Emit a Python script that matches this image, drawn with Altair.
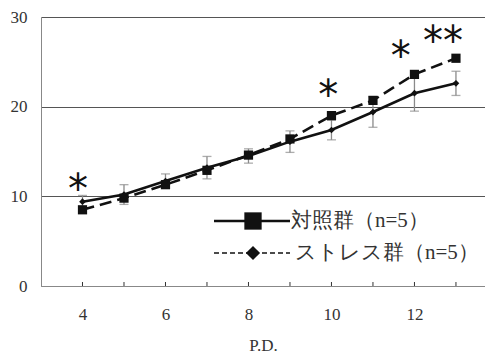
import altair as alt
import pandas as pd

# ---- data ----
pd_days = [4, 5, 6, 7, 8, 9, 10, 11, 12, 13]
square_vals = [8.5, 9.8, 11.3, 12.9, 14.6, 16.4, 19.0, 20.7, 23.6, 25.4]   # dashed line, squares
diamond_vals = [9.4, 10.2, 11.7, 13.2, 14.5, 16.1, 17.4, 19.4, 21.5, 22.6]  # solid line, diamonds
diamond_sd = [0.7, 1.1, 0.8, 1.25, 0.8, 1.2, 1.1, 1.7, 2.0, 1.35]

star_x = [3.89, 9.92, 11.67, 12.69]
star_y = [11.9, 22.4, 26.8, 28.4]
star_text = ["*", "*", "*", "**"]

legend_labels = ["対照群（n=5）", "ストレス群（n=5）"]
x_tick_values = [4, 5, 6, 7, 8, 9, 10, 11, 12, 13]
y_tick_values = [0, 10, 20, 30]

SERIF = "Liberation Serif"
W, H = 444, 269

df_sq = pd.DataFrame({"x": pd_days, "y": square_vals})
df_di = pd.DataFrame({"x": pd_days, "y": diamond_vals,
                      "lo": [v - s for v, s in zip(diamond_vals, diamond_sd)],
                      "hi": [v + s for v, s in zip(diamond_vals, diamond_sd)]})
df_caps = pd.DataFrame({"x": pd_days * 2,
                        "y": list(df_di["lo"]) + list(df_di["hi"])})
df_star = pd.DataFrame({"x": star_x, "y": star_y, "t": star_text})
df_ticks = pd.DataFrame({"x": x_tick_values})
df_one = pd.DataFrame({"a": [0]})

xs = alt.Scale(domain=[3, 13.7], nice=False, zero=False)
ys = alt.Scale(domain=[0, 30], nice=False)

x_axis = alt.Axis(values=x_tick_values, ticks=False, grid=False,
                  labelExpr="datum.value % 2 == 0 && datum.value <= 12 ? datum.label : ''",
                  labelFont=SERIF, labelFontSize=17, labelColor="#333", labelPadding=20,
                  domainColor="#888", title="P.D.", titleFont=SERIF, titleFontSize=17,
                  titleFontWeight="normal", titleColor="#333", titlePadding=15)
y_axis = alt.Axis(values=y_tick_values, ticks=False, grid=True, gridColor="#555",
                  labelFont=SERIF, labelFontSize=17, labelColor="#333", labelPadding=14,
                  domainColor="#888", title=None)

base_sq = alt.Chart(df_sq)
base_di = alt.Chart(df_di)

err = base_di.mark_rule(color="#8a8a8a", strokeWidth=1.3).encode(
    x=alt.X("x:Q", scale=xs, axis=x_axis), y=alt.Y("lo:Q", scale=ys, axis=y_axis), y2="hi:Q")
caps = alt.Chart(df_caps).mark_tick(orient="horizontal", color="#8a8a8a", size=9, thickness=1.3).encode(
    x=alt.X("x:Q", scale=xs), y=alt.Y("y:Q", scale=ys))

line_sq = base_sq.mark_line(color="#111", strokeWidth=2.6, strokeDash=[12, 6]).encode(
    x=alt.X("x:Q", scale=xs), y=alt.Y("y:Q", scale=ys))
line_di = base_di.mark_line(color="#111", strokeWidth=2.6).encode(
    x=alt.X("x:Q", scale=xs), y=alt.Y("y:Q", scale=ys))
pts_sq = base_sq.mark_point(shape="square", filled=True, color="#111", size=85, opacity=1).encode(
    x=alt.X("x:Q", scale=xs), y=alt.Y("y:Q", scale=ys))
pts_di = base_di.mark_point(shape="diamond", filled=True, color="#111", size=45, opacity=1).encode(
    x=alt.X("x:Q", scale=xs), y=alt.Y("y:Q", scale=ys))

stars = alt.Chart(df_star).mark_text(font="DejaVu Sans", fontSize=40, color="#111",
                                     baseline="middle", dy=12).encode(
    x=alt.X("x:Q", scale=xs), y=alt.Y("y:Q", scale=ys), text="t:N")

xticks = alt.Chart(df_ticks).mark_rule(color="#333", strokeWidth=1).encode(
    x=alt.X("x:Q", scale=xs), y=alt.value(H), y2=alt.value(H - 4))

# ---- legend (drawn inside plot, lower right) ----
LX0, LX1, LXS, LT = 173, 249, 212, 250
LY1, LY2 = 204, 236
leg_line1 = alt.Chart(df_one).mark_rule(color="#111", strokeWidth=2.6).encode(
    x=alt.value(LX0), x2=alt.value(LX1), y=alt.value(LY1))
leg_sym1 = alt.Chart(df_one).mark_point(shape="square", filled=True, color="#111", size=300, opacity=1).encode(
    x=alt.value(LXS), y=alt.value(LY1))
leg_txt1 = alt.Chart(df_one).mark_text(text=legend_labels[0], font=SERIF, fontSize=21, color="#333",
                                       align="left", baseline="middle").encode(
    x=alt.value(LT), y=alt.value(LY1))
leg_line2 = alt.Chart(df_one).mark_rule(color="#111", strokeWidth=1.5, strokeDash=[5, 3]).encode(
    x=alt.value(LX0), x2=alt.value(LX1), y=alt.value(LY2))
leg_sym2 = alt.Chart(df_one).mark_point(shape="diamond", filled=True, color="#111", size=200, opacity=1).encode(
    x=alt.value(LXS), y=alt.value(LY2))
leg_txt2 = alt.Chart(df_one).mark_text(text=legend_labels[1], font=SERIF, fontSize=21, color="#333",
                                       align="left", baseline="middle").encode(
    x=alt.value(LT + 4), y=alt.value(LY2))

chart = alt.layer(err, caps, line_sq, line_di, pts_sq, pts_di, stars, xticks,
                  leg_line1, leg_sym1, leg_txt1, leg_line2, leg_sym2, leg_txt2).properties(
    width=W, height=H,
    autosize=alt.AutoSizeParams(type="none"),
    padding={"left": 33, "top": 9, "right": 0, "bottom": 67},
).configure_view(stroke=None).configure(background="white")

chart.save("out.html", embed_options={"renderer": "svg", "actions": False})
